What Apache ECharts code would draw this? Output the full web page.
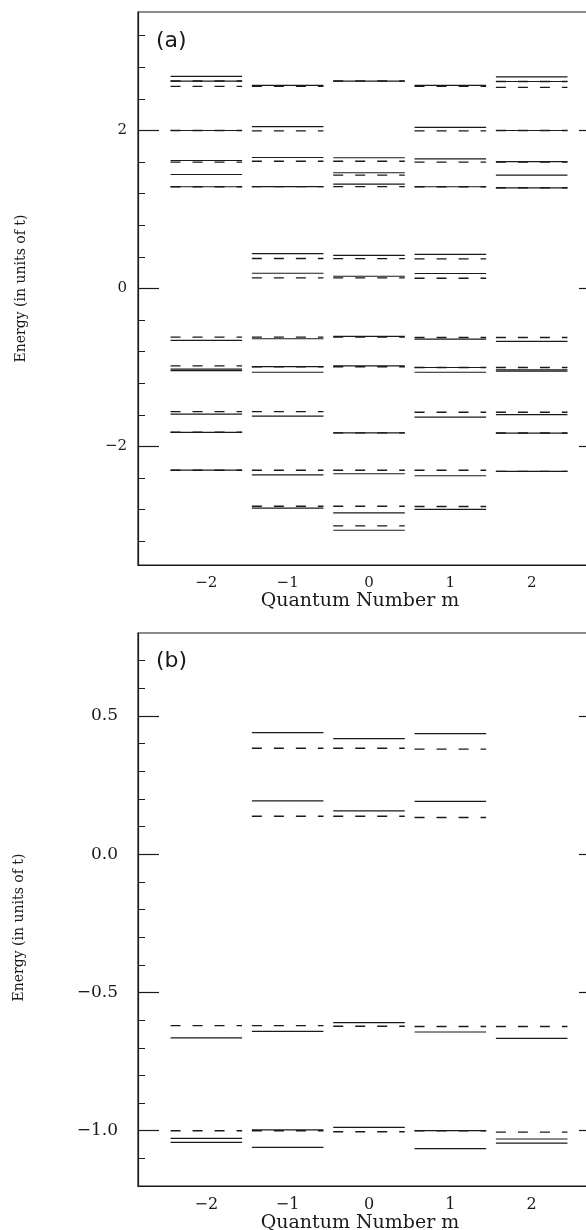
<!DOCTYPE html>
<html>
<head>
<meta charset="utf-8">
<script src="https://cdn.jsdelivr.net/npm/echarts@6/dist/echarts.min.js"></script>
<style>
  body { margin: 0; background: #fff; }
  #chart { width: 586px; height: 1230px; }
</style>
</head>
<body>
<div id="chart"></div>
<script>
// quantum number m for each column of levels
const mValues = [-2, -1, 0, 1, 2];

// panel (a): energy levels per m (same order as mValues)
const aSolid = [
  [2.685, 2.626, 2.00, 1.62, 1.443, 1.288, -0.657, -1.02, -1.04, -1.59, -1.82, -2.30],
  [2.571, 2.05, 1.658, 1.29, 0.442, 0.193, -0.636, -0.99, -1.06, -1.616, -2.36, -2.78],
  [2.626, 1.655, 1.465, 1.32, 0.42, 0.155, -0.606, -0.98, -1.827, -2.345, -2.84, -3.06],
  [2.571, 2.04, 1.64, 1.288, 0.433, 0.19, -0.64, -1.0, -1.06, -1.629, -2.37, -2.795],
  [2.68, 2.62, 2.00, 1.607, 1.435, 1.275, -0.67, -1.03, -1.045, -1.596, -1.83, -2.315]
];
const aDashed = [
  [2.626, 2.558, 2.00, 1.60, 1.288, -0.615, -0.98, -1.558, -1.818, -2.30],
  [2.558, 1.995, 1.61, 1.29, 0.379, 0.134, -0.615, -0.99, -1.558, -2.30, -2.757],
  [2.626, 1.61, 1.435, 1.29, 0.378, 0.134, -0.615, -0.99, -1.827, -2.30, -2.757, -3.005],
  [2.558, 1.995, 1.60, 1.288, 0.375, 0.13, -0.62, -1.0, -1.566, -2.30, -2.76],
  [2.62, 2.546, 2.00, 1.60, 1.275, -0.62, -1.0, -1.566, -1.83, -2.315]
];

// panel (b): close-up of the levels near the gap
const bSolid = [
  [-0.664, -1.028, -1.042],
  [0.44, 0.193, -0.641, -0.997, -1.06],
  [0.418, 0.157, -0.609, -0.988],
  [0.436, 0.191, -0.643, -1.0, -1.065],
  [-0.666, -1.03, -1.045]
];
const bDashed = [
  [-0.62, -1.0],
  [0.383, 0.137, -0.62, -1.0],
  [0.383, 0.137, -0.622, -1.004],
  [0.38, 0.133, -0.623, -1.0],
  [-0.623, -1.005]
];

// axis ticks
const xTicks = [-2, -1, 0, 1, 2];
const aMajor = [-2, 0, 2];
const aMinor = [-3.2, -2.8, -2.4, -1.6, -1.2, -0.8, -0.4, 0.4, 0.8, 1.2, 1.6, 2.4, 2.8, 3.2];
const bMajor = [-1.0, -0.5, 0.0, 0.5];
const bMinor = [-1.1, -0.9, -0.8, -0.7, -0.6, -0.4, -0.3, -0.2, -0.1, 0.1, 0.2, 0.3, 0.4, 0.6, 0.7];

const HALF = 0.44;
const INK = '#1a1a1a';
const SERIF = '"DejaVu Serif", serif';

function toPairs(levels) {
  const out = [];
  levels.forEach((list, i) => list.forEach(e => out.push([mValues[i], e])));
  return out;
}

function levelRenderer(dashed) {
  return function (params, api) {
    const m = api.value(0), e = api.value(1);
    const p1 = api.coord([m - HALF, e]);
    const p2 = api.coord([m + HALF, e]);
    return {
      type: 'line',
      shape: { x1: p1[0], y1: p1[1], x2: p2[0], y2: p2[1] },
      style: { stroke: INK, lineWidth: dashed ? 1.4 : 1.2, lineDash: dashed ? [10, 12] : null }
    };
  };
}

const minus = v => String(v).replace('-', '\u2212');

function xAxisFor(gridIndex, labelSize, nameGap) {
  return {
    type: 'value', gridIndex: gridIndex, min: -2.84, max: 2.84,
    axisLine: { show: true, onZero: false, lineStyle: { color: INK, width: 1.2 } },
    axisTick: { show: false },
    splitLine: { show: false },
    axisLabel: { customValues: xTicks, color: INK, fontFamily: SERIF, fontSize: labelSize, margin: 11, formatter: minus },
    name: 'Quantum Number m', nameLocation: 'middle', nameGap: nameGap,
    nameTextStyle: { color: INK, fontFamily: SERIF, fontSize: 19, padding: [0, 18, 0, 0] }
  };
}

function yAxesFor(gridIndex, min, max, major, minor, fmt, labelSize, labelMargin, nameGap, namePad) {
  const line = { show: true, onZero: false, lineStyle: { color: INK, width: 1.2 } };
  const noLine = { show: false, onZero: false };
  const base = { type: 'value', gridIndex: gridIndex, min: min, max: max, splitLine: { show: false } };
  return [
    Object.assign({}, base, {
      position: 'left', axisLine: line,
      axisTick: { inside: true, length: 21, customValues: major, lineStyle: { color: INK, width: 1.2 } },
      axisLabel: { customValues: major, formatter: fmt, color: INK, fontFamily: SERIF, fontSize: labelSize, margin: labelMargin },
      name: 'Energy (in units of t)', nameLocation: 'middle', nameGap: nameGap,
      nameTextStyle: { color: INK, fontFamily: SERIF, fontSize: 14, padding: namePad }
    }),
    Object.assign({}, base, {
      position: 'left', axisLine: noLine,
      axisTick: { inside: true, length: 7, customValues: minor, lineStyle: { color: INK, width: 1 } },
      axisLabel: { show: false }
    }),
    Object.assign({}, base, {
      position: 'right', axisLine: line,
      axisTick: { inside: true, length: 21, customValues: major, lineStyle: { color: INK, width: 1.2 } },
      axisLabel: { show: false }
    }),
    Object.assign({}, base, {
      position: 'right', axisLine: noLine,
      axisTick: { inside: true, length: 7, customValues: minor, lineStyle: { color: INK, width: 1 } },
      axisLabel: { show: false }
    })
  ];
}

const chart = echarts.init(document.getElementById('chart'), null, { renderer: 'canvas' });

const option = {
  animation: false,
  backgroundColor: '#fff',
  grid: [
    { left: 138, width: 462, top: 12, height: 553, outerBoundsMode: 'none', containLabel: false,
      show: true, borderColor: INK, borderWidth: 1.2, backgroundColor: 'transparent' },
    { left: 138, width: 462, top: 633, height: 553, outerBoundsMode: 'none', containLabel: false,
      show: true, borderColor: INK, borderWidth: 1.2, backgroundColor: 'transparent' }
  ],
  xAxis: [xAxisFor(0, 15, 21), xAxisFor(1, 16, 26)],
  yAxis: [].concat(
    yAxesFor(0, -3.5, 3.5, aMajor, aMinor, minus, 15, 11, 110, 0),
    yAxesFor(1, -1.2, 0.8, bMajor, bMinor, v => minus(v.toFixed(1)), 17, 20, 112, [0, 36, 0, 0])
  ),
  graphic: [
    { type: 'text', left: 156, top: 30, style: { text: '(a)', font: '22px "DejaVu Sans"', fill: INK } },
    { type: 'text', left: 156, top: 650, style: { text: '(b)', font: '22px "DejaVu Sans"', fill: INK } }
  ],
  series: [
    { type: 'custom', xAxisIndex: 0, yAxisIndex: 0, renderItem: levelRenderer(false), data: toPairs(aSolid), clip: true },
    { type: 'custom', xAxisIndex: 0, yAxisIndex: 0, renderItem: levelRenderer(true), data: toPairs(aDashed), clip: true },
    { type: 'custom', xAxisIndex: 1, yAxisIndex: 4, renderItem: levelRenderer(false), data: toPairs(bSolid), clip: true },
    { type: 'custom', xAxisIndex: 1, yAxisIndex: 4, renderItem: levelRenderer(true), data: toPairs(bDashed), clip: true }
  ]
};

chart.setOption(option);
</script>
</body>
</html>
